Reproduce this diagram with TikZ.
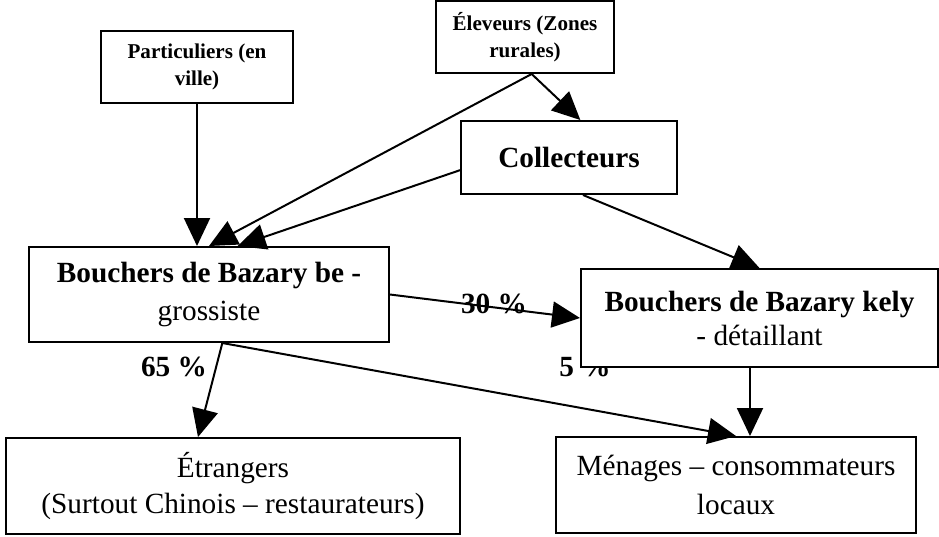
\documentclass[tikz,border=0pt]{standalone}
\usepackage{fontspec}
\setmainfont{Liberation Serif}
\usetikzlibrary{arrows.meta}
\begin{document}
\begin{tikzpicture}[x=0.015cm, y=-0.015cm,
    line width=0.85pt,
    arr/.style={-{Triangle[length=4.2mm, width=3.9mm]}},
    box/.style={draw, fill=white, inner sep=0pt, align=center,
        font=\fontsize{12.5}{16}\selectfont},
    smallbox/.style={box, font=\fontsize{9}{11.5}\selectfont\bfseries},
    pct/.style={inner sep=0pt, font=\fontsize{12.5}{15}\selectfont\bfseries}]
    \useasboundingbox (0,0) rectangle (939,536);

    % labels (5 % sits under the kely box)
    \node[pct] (p5) at (585,367) {5 \%};
    \node[pct] (p65) at (174,367) {65 \%};

    % sources
    \node[smallbox, minimum width=2.88cm, minimum height=1.08cm] (part) at (197,67) {Particuliers (en\\ville)};
    \node[smallbox, minimum width=2.67cm, minimum height=1.08cm] (elev) at (525,37) {Éleveurs (Zones\\rurales)};
    \node[box, font=\fontsize{12.5}{16}\selectfont\bfseries, minimum width=3.24cm, minimum height=1.095cm] (coll) at (569,157.5) {Collecteurs};

    % butchers
    \node[box, font=\fontsize{12.5}{16.2}\selectfont, minimum width=5.4cm, minimum height=1.425cm] (be) at (209,294.5) {\textbf{Bouchers de Bazary be -}\\grossiste};
    \node[box, font=\fontsize{12.5}{14.5}\selectfont, minimum width=5.355cm, minimum height=1.47cm] (kely) at (759.5,318) {\textbf{Bouchers de Bazary kely}\\- détaillant};

    % consumers
    \node[box, font=\fontsize{12.5}{15}\selectfont, minimum width=6.81cm, minimum height=1.44cm] (etr) at (233,486) {Étrangers\\(Surtout Chinois – restaurateurs)};
    \node[box, font=\fontsize{12.5}{17}\selectfont, minimum width=5.4cm, minimum height=1.44cm] (men) at (736,485) {Ménages – consommateurs\\locaux};

    % flows
    \draw[arr] (part.south) -- (part.south |- be.north);
    \draw[arr] ([xshift=0.1cm]elev.south) -- (be.north);
    \draw[arr] ([xshift=0.1cm]elev.south) -- ([xshift=0.17cm]coll.north);
    \draw[arr] ([yshift=-0.19cm]coll.west) -- ([xshift=0.43cm]be.north);
    \draw[arr] ([xshift=0.21cm]coll.south) -- (kely.north);
    \draw[arr] (be.east) -- (kely.west);
    \draw[arr] ([xshift=0.2cm]be.south) -- ([xshift=-0.525cm]etr.north);
    \draw[arr] ([xshift=0.2cm]be.south) -- (men.north);
    \draw[arr] ([xshift=0.21cm]men.north |- kely.south) -- ([xshift=0.21cm]men.north);

    \node[pct] (p30) at (494,304) {30 \%};
\end{tikzpicture}
\end{document}
